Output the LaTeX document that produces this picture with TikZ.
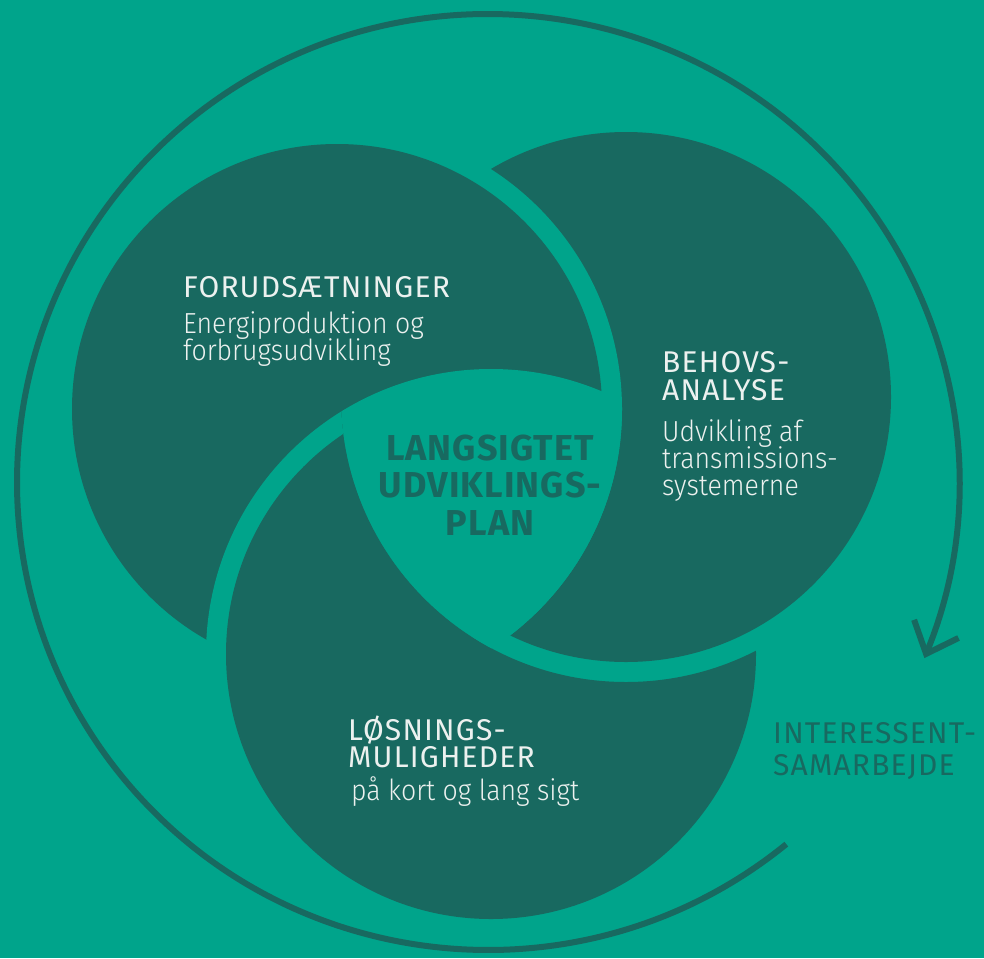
\documentclass[tikz,border=0pt]{standalone}
\usepackage{fontspec}
\setmainfont{Fira Sans}
\newfontfamily\headfont{Fira Sans}[LetterSpace=4]
\newfontfamily\subfont{Fira Sans Light}[FakeStretch=0.92]
\newfontfamily\midfont{Fira Sans}[LetterSpace=3]
\usetikzlibrary{arrows.meta}
\definecolor{bgteal}{RGB}{0,164,139}
\definecolor{darkgreen}{RGB}{24,105,96}
\definecolor{txtwhite}{RGB}{236,241,239}
\def\myR{265pt}
\def\myRG{285pt}
\newcommand\mydisk[1]{\fill[bgteal] (#1) circle (\myRG); \fill[darkgreen] (#1) circle (\myR);}
\begin{document}
\begin{tikzpicture}[x=1pt,y=-1pt,
  headtext/.style={anchor=base west, inner sep=0pt, text depth=0pt, text=txtwhite, font=\headfont\fontsize{30}{30}\selectfont},
  subtext/.style={anchor=base west, inner sep=0pt, text=txtwhite, font=\subfont\fontsize{29}{29}\selectfont},
  centertext/.style={anchor=base, inner sep=0pt, text=darkgreen, font=\midfont\bfseries\fontsize{36}{36}\selectfont},
  outertext/.style={anchor=base west, inner sep=0pt, text depth=0pt, text=darkgreen, font=\headfont\fontsize{30}{30}\selectfont},
  cycleline/.style={draw=darkgreen, line width=6pt}
]
\fill[bgteal] (0,0) rectangle (984,958);
\useasboundingbox (0,0) rectangle (984,958);
\coordinate (c1) at (337,409);
\coordinate (c2) at (626,397);
\coordinate (c3) at (491,654);
\coordinate (oc) at (488,482);
% circles in pinwheel order: 1 over 2, 2 over 3, 3 over 1
\mydisk{c2}
\mydisk{c1}
\begin{scope}[even odd rule]
  \clip (-10,-10) rectangle (1000,1000) (c2) circle (\myRG);
  \mydisk{c3}
\end{scope}
\begin{scope}
  \clip (c1) circle (\myRG);
  \clip (c2) circle (\myRG);
  \fill[bgteal] (c3) circle (\myRG);
\end{scope}
% outer cycle arrow
\draw[cycleline, -{Straight Barb[length=27pt,width=48pt]}] (oc) ++(-50.7:471pt and 468pt)
  arc[start angle=-50.7, end angle=-382.1, x radius=471pt, y radius=468pt];
% texts
\node[headtext] (f1) at (183,297) {FORUDSÆTNINGER};
\node[subtext] (f2) at (183,333) {Energiproduktion og};
\node[subtext] (f3) at (183,360) {forbrugsudvikling};
\node[headtext] (b1) at (662,372) {BEHOVS-};
\node[headtext] (b2) at (662,400) {ANALYSE};
\node[subtext] (b3) at (662,441) {Udvikling af};
\node[subtext] (b4) at (662,468) {transmissions-};
\node[subtext] (b5) at (662,495) {systemerne};
\node[headtext] (l1) at (348,740) {LØSNINGS-};
\node[headtext] (l2) at (348,767) {MULIGHEDER};
\node[subtext] (l3) at (351,800) {på kort og lang sigt};
\node[centertext] (m1) at (490,460) {LANGSIGTET};
\node[centertext] (m2) at (490,497) {UDVIKLINGS-};
\node[centertext] (m3) at (490,535) {PLAN};
\node[outertext] (i1) at (773,743) {INTERESSENT-};
\node[outertext] (i2) at (773,775) {SAMARBEJDE};
\end{tikzpicture}
\end{document}
